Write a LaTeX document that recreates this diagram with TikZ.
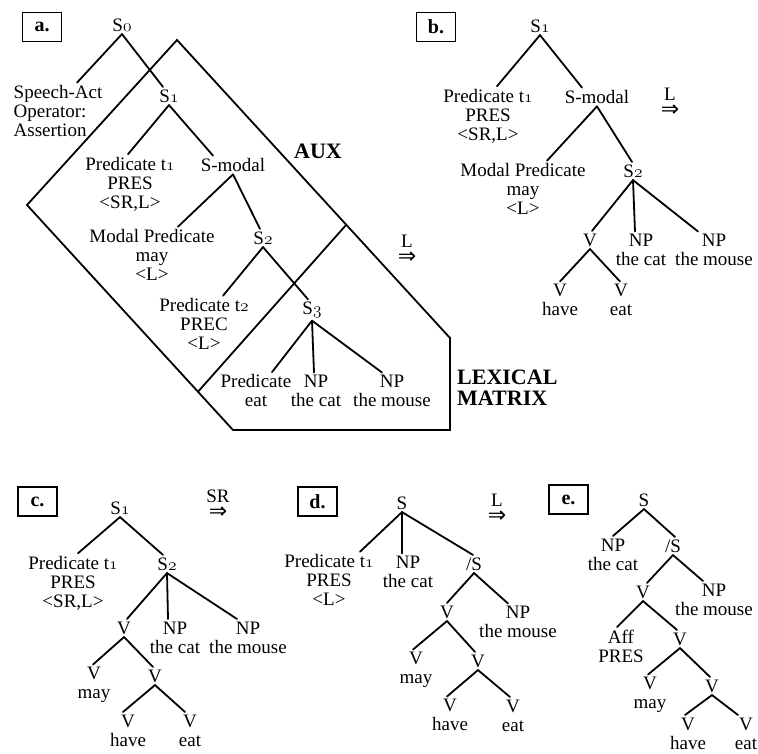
\documentclass[tikz,border=0pt]{standalone}
\usepackage{fontspec}
\setmainfont{Liberation Serif}
\newfontfamily\arrowfont{DejaVu Sans}
\usetikzlibrary{calc, positioning}
\newcommand{\osf}[1]{{\usefont{OML}{cmm}{m}{it}#1}}
\newcommand{\treefont}{\fontsize{19}{19}\selectfont}
\tikzset{
  treenode/.style    = {font=\treefont, inner sep=2.5pt, align=center},
  treeedge/.style    = {line width=1.8pt, line cap=round},
  panelbox/.style    = {draw, line width=1.4pt, minimum width=39pt,
                        minimum height=29pt, inner sep=0pt,
                        font=\fontsize{20}{20}\selectfont\bfseries},
  regionline/.style  = {line width=1.8pt, line join=miter},
  regionlabel/.style = {font=\fontsize{22}{21}\selectfont\bfseries,
                        inner sep=0pt, align=left},
  rulename/.style    = {font=\treefont, inner sep=0pt},
  rulearrow/.style   = {font=\fontsize{22}{22}\arrowfont, inner sep=0pt},
}
\begin{document}
\begin{tikzpicture}[x=1pt, y=-1pt]
  \useasboundingbox (0,0) rectangle (758,754);
  % a. underlying structure with AUX and lexical matrix
  \coordinate (auxtop)   at (177,40);
  \coordinate (auxleft)  at (27,205);
  \coordinate (auxbot)   at (233,430);
  \coordinate (lexbr)    at (450,430);
  \coordinate (lexright) at (450,338);
  \coordinate (lexjoin)  at ($(auxtop)!0.62!(lexright)$);
  \coordinate (lexleft)  at ($(auxleft)!0.83!(auxbot)$);
  \draw[regionline] (auxtop) -- (auxleft) -- (auxbot) -- (lexbr)
    -- (lexright) -- cycle;
  \draw[regionline] (lexjoin) -- (lexleft);
  \node[panelbox] (boxa) at (42,27) {a.};
  \node[treenode] (a0) at (122,25) {S\osf{0}};
  \node[treenode, align=left, anchor=west] (aSA) at (11,111)
    {Speech-Act\\Operator:\\Assertion};
  \node[treenode] (a1)   at (169,96)  {S\osf{1}};
  \node[treenode] (aP1)  at (130,184) {Predicate t\osf{1}\\PRES\\<SR,L>};
  \node[treenode] (aSM)  at (233,165) {S-modal};
  \node[treenode] (aMP)  at (152,255) {Modal Predicate\\may\\<L>};
  \node[treenode] (a2)   at (263,238) {S\osf{2}};
  \node[treenode] (aP2)  at (204,324) {Predicate t\osf{2}\\PREC\\<L>};
  \node[treenode] (a3)   at (312,310) {S\osf{3}};
  \node[treenode] (aPE)  at (256,391) {Predicate\\eat};
  \node[treenode] (aNP1) at (316,391) {NP\\the cat};
  \node[treenode] (aNP2) at (392,391) {NP\\the mouse};
  \node[regionlabel] (auxlabel) at (318,151) {AUX};
  \node[regionlabel, anchor=west] (lexlabel) at (457,388) {LEXICAL\\MATRIX};
  \node[rulename] (ruleaL) at (407,241) {L};
  \node[rulearrow, below=4pt of ruleaL] (ruleaA) {⇒};
  % b.
  \node[panelbox] (boxb) at (436,27) {b.};
  \node[treenode] (b1)   at (540,26)  {S\osf{1}};
  \node[treenode] (bP1)  at (488,116) {Predicate t\osf{1}\\PRES\\<SR,L>};
  \node[treenode] (bSM)  at (597,97)  {S-modal};
  \node[rulename] (rulebL) at (670,94) {L};
  \node[rulearrow, below=4pt of rulebL] (rulebA) {⇒};
  \node[treenode] (bMP)  at (523,189) {Modal Predicate\\may\\<L>};
  \node[treenode] (b2)   at (633,171) {S\osf{2}};
  \node[treenode] (bV)   at (590,240) {V};
  \node[treenode] (bNP1) at (641,250) {NP\\the cat};
  \node[treenode] (bNP2) at (714,250) {NP\\the mouse};
  \node[treenode] (bV1)  at (560,300) {V\\have};
  \node[treenode] (bV2)  at (621,300) {V\\eat};
  % c.
  \node[panelbox] (boxc) at (37.5,501.5) {c.};
  \node[treenode] (c1)   at (120,508) {S\osf{1}};
  \node[rulename] (rulecL) at (218,496) {SR};
  \node[rulearrow, below=4pt of rulecL] (rulecA) {⇒};
  \node[treenode] (cP1)  at (73,583)  {Predicate t\osf{1}\\PRES\\<SR,L>};
  \node[treenode] (c2)   at (167,564) {S\osf{2}};
  \node[treenode] (cV)   at (124,628) {V};
  \node[treenode] (cNP1) at (175,637.5) {NP\\the cat};
  \node[treenode] (cNP2) at (248,637.5) {NP\\the mouse};
  \node[treenode] (cV1)  at (94,685)  {V\\may};
  \node[treenode] (cV2)  at (155,676) {V};
  \node[treenode] (cV3)  at (128,730.5) {V\\have};
  \node[treenode] (cV4)  at (190,730.5) {V\\eat};
  % d.
  \node[panelbox] (boxd) at (317.5,501.5) {d.};
  \node[treenode] (d0)   at (402,503) {S};
  \node[rulename] (ruledL) at (497,500) {L};
  \node[rulearrow, below=4pt of ruledL] (ruledA) {⇒};
  \node[treenode] (dP1)  at (329,580) {Predicate t\osf{1}\\PRES\\<L>};
  \node[treenode] (dNP1) at (408,572) {NP\\the cat};
  \node[treenode] (dS)   at (474,564) {/S};
  \node[treenode] (dV)   at (447,612) {V};
  \node[treenode] (dNP2) at (518,622) {NP\\the mouse};
  \node[treenode] (dV1)  at (416,670) {V\\may};
  \node[treenode] (dV2)  at (478,661) {V};
  \node[treenode] (dV3)  at (450,715) {V\\have};
  \node[treenode] (dV4)  at (513,715.5) {V\\eat};
  % e.
  \node[panelbox] (boxe) at (568.5,499.5) {e.};
  \node[treenode] (e0)   at (644,500) {S};
  \node[treenode] (eNP1) at (613,554.5) {NP\\the cat};
  \node[treenode] (eS)   at (673,546) {/S};
  \node[treenode] (eV)   at (643,592) {V};
  \node[treenode] (eNP2) at (714,599.5) {NP\\the mouse};
  \node[treenode] (eAff) at (621,646) {Aff\\PRES};
  \node[treenode] (eV1)  at (680,639) {V};
  \node[treenode] (eV2)  at (650,695) {V\\may};
  \node[treenode] (eV3)  at (712,686) {V};
  \node[treenode] (eV4)  at (688,733.5) {V\\have};
  \node[treenode] (eV5)  at (746,733.5) {V\\eat};
  % branches: parent/child/shift of the lower end
  \foreach \p/\c/\dx in {a0/aSA/19, a0/a1/-6, a1/aP1/-2, a1/aSM/-20,
      aSM/aMP/26, aSM/a2/-3, a2/aP2/19, a2/a3/-4, a3/aPE/16, a3/aNP1/-2,
      a3/aNP2/-10,
      b1/bP1/9, b1/bSM/-15, bSM/bMP/24, bSM/b2/-1, b2/bV/2, b2/bNP1/-6,
      b2/bNP2/-16, bV/bV1/0, bV/bV2/-1,
      c1/cP1/5, c1/c2/-4, c2/cV/3, c2/cNP1/-7, c2/cNP2/-11, cV/cV1/-1,
      cV/cV2/-2, cV2/cV3/-5, cV2/cV4/-5,
      d0/dP1/31, d0/dNP1/-6, d0/dS/-1, dS/dV/0, dS/dNP2/-10, dV/dV1/-3,
      dV/dV2/-3, dV2/dV3/-3, dV2/dV4/-3,
      e0/eNP1/0, e0/eS/2, eS/eV/4, eS/eNP2/-11, eV/eAff/-4, eV/eV1/-3,
      eV1/eV2/-2, eV1/eV3/-2, eV3/eV4/-3, eV3/eV5/-8}
    {\draw[treeedge] (\p.south) -- ($(\c.north)+(\dx,0)$);}
\end{tikzpicture}
\end{document}
